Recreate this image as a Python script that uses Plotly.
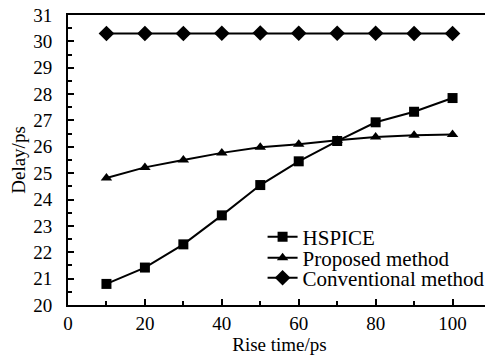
import plotly.graph_objects as go

rise_time = [10, 20, 30, 40, 50, 60, 70, 80, 90, 100]
hspice = [20.8, 21.42, 22.3, 23.4, 24.55, 25.45, 26.22, 26.93, 27.33, 27.85]
proposed = [24.82, 25.22, 25.5, 25.77, 25.98, 26.1, 26.25, 26.37, 26.44, 26.47]
conventional = [30.3, 30.3, 30.3, 30.31, 30.32, 30.31, 30.31, 30.31, 30.3, 30.3]

font_family = "Liberation Serif, Times New Roman, serif"

fig = go.Figure()
fig.add_trace(go.Scatter(x=rise_time, y=hspice, name="HSPICE", mode="lines+markers",
                         line=dict(color="black", width=2), legend="legend",
                         marker=dict(symbol="square", size=10, color="black")))
fig.add_trace(go.Scatter(x=rise_time, y=proposed, name="Proposed method", mode="lines+markers",
                         line=dict(color="black", width=2), legend="legend2",
                         marker=dict(symbol="triangle-up", size=10, color="black")))
fig.add_trace(go.Scatter(x=rise_time, y=conventional, name="Conventional method", mode="lines+markers",
                         line=dict(color="black", width=2), legend="legend3",
                         marker=dict(symbol="diamond", size=12, color="black")))

def leg(y):
    return dict(x=0.46, y=y, xanchor="left", yanchor="middle",
                bgcolor="rgba(0,0,0,0)", font=dict(size=21, family=font_family, color="black"),
                itemwidth=30, borderwidth=0)

# page body has an 8px default margin, so the figure is 485x352 to fill the 493x360 window
fig.update_layout(
    width=485, height=352,
    margin=dict(l=60, r=2, t=7, b=55, autoexpand=False),
    paper_bgcolor="white", plot_bgcolor="white",
    font=dict(family=font_family, size=19, color="black"),
    showlegend=True,
    legend=leg(0.2345),
    legend2=leg(0.162),
    legend3=leg(0.093),
)
fig.update_xaxes(range=[0, 110], tick0=0, dtick=20, ticks="inside", ticklen=6, tickwidth=1.5,
                 tickcolor="black", showline=True, linecolor="black", linewidth=2, mirror=True,
                 showgrid=False, zeroline=False, ticklabelstandoff=0, automargin=False,
                 ticklabeloverflow="allow",
                 minor=dict(ticks="inside", dtick=10, ticklen=4, tickcolor="black", showgrid=False),
                 title=dict(text="Rise time/ps", font=dict(size=19), standoff=0))
fig.update_yaxes(range=[20, 31], tick0=20, dtick=1, ticks="inside", ticklen=6, tickwidth=1.5,
                 tickcolor="black", showline=True, linecolor="black", linewidth=2, mirror=True,
                 showgrid=False, zeroline=False, ticklabelstandoff=10, automargin=False,
                 ticklabeloverflow="allow",
                 minor=dict(ticks="inside", dtick=0.5, ticklen=4, tickcolor="black", showgrid=False),
                 title=dict(text="Delay/ps", font=dict(size=19), standoff=10))

fig.write_html("out.html")
